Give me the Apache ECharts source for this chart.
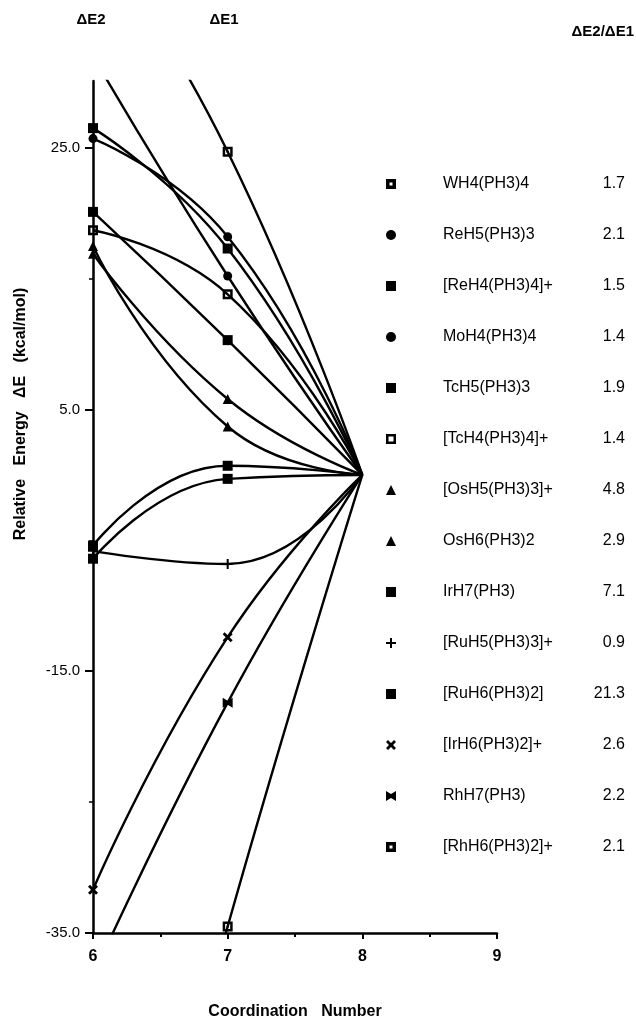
<!DOCTYPE html>
<html>
<head>
<meta charset="utf-8">
<script src="https://cdn.jsdelivr.net/npm/echarts@6.0.0/dist/echarts.min.js"></script>
<style>
  html, body { margin: 0; padding: 0; background: #fff; }
  #chart { width: 636px; height: 1025px; }
</style>
</head>
<body>
<div id="chart"></div>
<script>
// coordination numbers on the x axis
const coordination = [6, 7, 8];
const compounds = [
  'WH4(PH3)4', 'ReH5(PH3)3', '[ReH4(PH3)4]+', 'MoH4(PH3)4', 'TcH5(PH3)3',
  '[TcH4(PH3)4]+', '[OsH5(PH3)3]+', 'OsH6(PH3)2', 'IrH7(PH3)', '[RuH5(PH3)3]+',
  '[RuH6(PH3)2]', '[IrH6(PH3)2]+', 'RhH7(PH3)', '[RhH6(PH3)2]+'
];
const ratios = ['1.7', '2.1', '1.5', '1.4', '1.9', '1.4', '4.8', '2.9', '7.1', '0.9', '21.3', '2.6', '2.2', '2.1'];
// relative energy (kcal/mol) at CN 6, 7, 8
const energyCN6 = [42.0, 32.0, 26.5, 25.7, 20.1, 18.7, 17.5, 16.9, -5.4, -5.8, -6.4, -31.7, -38.3, -72.5];
const energyCN7 = [24.7, 15.2, 17.3, 18.2, 10.3, 13.8, 3.7, 5.8, 0.7, -6.8, -0.3, -12.4, -17.4, -34.5];
const energyCN8 = [0, 0, 0, 0, 0, 0, 0, 0, 0, 0, 0, 0, 0, 0];
const yLabelTicks = [-35, -15, 5, 25];
const yMinorTicks = [-25, -5, 15];
const xLabelTicks = [6, 7, 8, 9];

const FONT = "'Liberation Sans', Arial, Helvetica, sans-serif";

// marker shapes
const SYM = {
  dotSquare: 'path://M0,0H10V10H0Z M2.5,2.5V7.5H7.5V2.5Z M4,4H6V6H4Z',
  holeSquare: 'path://M0,0H10V10H0Z M3.5,3.5V6.5H6.5V3.5Z',
  openSquare: 'path://M0,0H10V10H0Z M2.5,2.5V7.5H7.5V2.5Z',
  square: 'rect',
  circle: 'circle',
  triangle: 'triangle',
  plus: 'path://M4,0H6V4H10V6H6V10H4V6H0V4H4Z',
  cross: 'path://M2,0L5,3L8,0L10,2L7,5L10,8L8,10L5,7L2,10L0,8L3,5L0,2Z',
  bowtie: 'path://M0,0L5,3L10,0V10L5,7L0,10Z'
};
const markerOf = ['dotSquare', 'circle', 'square', 'circle', 'square', 'openSquare', 'triangle',
  'triangle', 'square', 'plus', 'square', 'cross', 'bowtie', 'dotSquare'];
const legendMarkerOf = markerOf.map(m => (m === 'dotSquare' ? 'holeSquare' : m));
const sizeOf = { circle: 9, triangle: 10, plus: 10, cross: 10, bowtie: 10 };

const chart = echarts.init(document.getElementById('chart'));

const series = compounds.map((name, i) => ({
  name: name,
  type: 'line',
  smooth: 0.5,
  symbol: SYM[markerOf[i]],
  symbolSize: sizeOf[markerOf[i]] || 10,
  showSymbol: true,
  lineStyle: { color: '#000', width: 2.4 },
  itemStyle: { color: '#000' },
  emphasis: { disabled: true },
  data: [
    [coordination[0], energyCN6[i]],
    [coordination[1], energyCN7[i]],
    { value: [coordination[2], energyCN8[i]], symbol: 'none' }
  ]
}));

const option = {
  animation: false,
  backgroundColor: '#fff',
  grid: { left: 93, right: 139, top: 81, bottom: 86, containLabel: false },
  xAxis: {
    type: 'value',
    min: 6, max: 9, interval: 1,
    name: 'Coordination   Number',
    nameLocation: 'middle',
    nameGap: 71,
    nameTextStyle: { color: '#000', fontFamily: FONT, fontWeight: 'bold', fontSize: 16 },
    axisLine: { show: true, onZero: false, lineStyle: { color: '#000', width: 2.5 } },
    axisTick: { show: true, length: 6, lineStyle: { color: '#000', width: 2 } },
    minorTick: { show: true, splitNumber: 2, length: 4, lineStyle: { color: '#000', width: 2 } },
    axisLabel: { color: '#000', fontFamily: FONT, fontSize: 16, fontWeight: 'bold', margin: 16,
      customValues: xLabelTicks },
    splitLine: { show: false }
  },
  yAxis: [{
    type: 'value',
    min: -35, max: 30.1, interval: 10,
    position: 'left',
    axisLine: { show: true, onZero: false, lineStyle: { color: '#000', width: 2.5 } },
    axisTick: { show: true, length: 8, customValues: yLabelTicks, lineStyle: { color: '#000', width: 2 } },
    axisLabel: { color: '#000', fontFamily: FONT, fontSize: 15, margin: 13,
      customValues: yLabelTicks, formatter: v => v.toFixed(1) },
    splitLine: { show: false }
  }, {
    type: 'value',
    min: -35, max: 30.1, interval: 10,
    position: 'left',
    offset: 0,
    axisLine: { show: false, onZero: false },
    axisTick: { show: true, length: 4, customValues: yMinorTicks, lineStyle: { color: '#000', width: 1.5 } },
    axisLabel: { show: false },
    splitLine: { show: false }
  }],
  legend: {
    orient: 'vertical',
    left: 381,
    top: 171,
    itemWidth: 10,
    itemHeight: 10,
    itemGap: 35,
    selectedMode: false,
    data: compounds.map((n, i) => ({ name: n, icon: SYM[legendMarkerOf[i]] })),
    formatter: name => '{n|' + name + '}{r|' + ratios[compounds.indexOf(name)] + '}',
    textStyle: {
      color: '#000',
      fontFamily: FONT,
      fontSize: 16,
      rich: {
        n: { width: 140, padding: [0, 0, 0, 42], fontFamily: FONT, fontSize: 16, color: '#000' },
        r: { width: 42, align: 'right', fontFamily: FONT, fontSize: 16, color: '#000' }
      }
    }
  },
  graphic: [
    { type: 'text', x: 91, y: 20, style: { text: 'ΔE2', font: 'bold 15px ' + FONT, fill: '#000', align: 'center', verticalAlign: 'middle' } },
    { type: 'text', x: 224, y: 20, style: { text: 'ΔE1', font: 'bold 15px ' + FONT, fill: '#000', align: 'center', verticalAlign: 'middle' } },
    { type: 'text', x: 634, y: 32, style: { text: 'ΔE2/ΔE1', font: 'bold 15px ' + FONT, fill: '#000', align: 'right', verticalAlign: 'middle' } },
    { type: 'text', x: 21, y: 414, rotation: Math.PI / 2,
      style: { text: 'Relative   Energy   ΔE   (kcal/mol)', font: 'bold 16px ' + FONT, fill: '#000', align: 'center', verticalAlign: 'middle' } }
  ],
  series: series
};

chart.setOption(option);
</script>
</body>
</html>
